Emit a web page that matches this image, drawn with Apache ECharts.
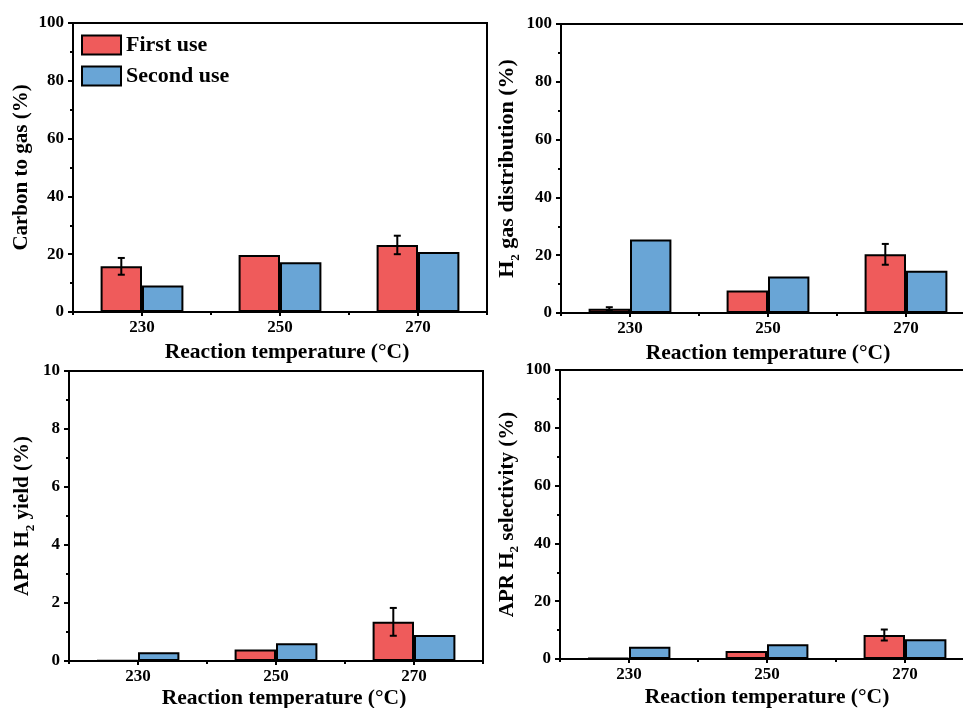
<!DOCTYPE html>
<html>
<head>
<meta charset="utf-8">
<script src="https://cdn.jsdelivr.net/npm/echarts@6/dist/echarts.min.js"></script>
<style>
html,body{margin:0;padding:0;background:#fff;overflow:hidden;width:963px;height:708px;}
#chart{width:990px;height:708px;}
</style>
</head>
<body>
<div id="chart"></div>
<script>
// ---- data ----
var categories = ['230', '250', '270'];
var seriesNames = ['First use', 'Second use'];

var carbonFirst = [15.8, 19.7, 23.2];
var carbonFirstErr = [2.9, 0, 3.2];
var carbonSecond = [9.2, 17.2, 20.8];

var h2DistFirst = [1.5, 7.8, 20.3];
var h2DistFirstErr = [0.5, 0, 3.6];
var h2DistSecond = [25.4, 12.6, 14.6];

var yieldFirst = [0.02, 0.40, 1.35];
var yieldFirstErr = [0, 0, 0.48];
var yieldSecond = [0.30, 0.61, 0.90];

var selFirst = [0.3, 2.8, 8.3];
var selFirstErr = [0, 0, 1.9];
var selSecond = [4.2, 5.1, 6.8];

var yTicks100 = [0, 20, 40, 60, 80, 100];
var yTicks10 = [0, 2, 4, 6, 8, 10];

// ---- styling ----
var FONT = 'Liberation Serif';
var RED = '#EF5B5B';
var BLUE = '#69A5D6';

var panels = [
  { grid: { left: 73, top: 23, width: 414, height: 289 }, yName: 'Carbon to gas (%)', ticks: yTicks100, first: carbonFirst, err: carbonFirstErr, second: carbonSecond, nameGap: 41, xShift: 14, ySize: 21, xGap: 29 },
  { grid: { left: 561, top: 24, width: 414, height: 289 }, yName: '{n|H}{s|2}{n| gas distribution (%)}', ticks: yTicks100, first: h2DistFirst, err: h2DistFirstErr, second: h2DistSecond, nameGap: 36, xShift: 0, ySize: 22, xGap: 29 },
  { grid: { left: 69, top: 371, width: 414, height: 290 }, yName: '{n|APR H}{s|2}{n| yield (%)}', ticks: yTicks10, first: yieldFirst, err: yieldFirstErr, second: yieldSecond, nameGap: 36, xShift: 16, ySize: 21, xGap: 26 },
  { grid: { left: 560, top: 370, width: 414, height: 289 }, yName: '{n|APR H}{s|2}{n| selectivity (%)}', ticks: yTicks100, first: selFirst, err: selFirstErr, second: selSecond, nameGap: 35, xShift: 0, ySize: 21, xGap: 27 }
];

var grids = [], xAxes = [], yAxes = [], series = [];
var black = { color: '#000', width: 2 };

panels.forEach(function (p, i) {
  grids.push(Object.assign({ show: true, borderColor: '#000', borderWidth: 2, backgroundColor: 'transparent', containLabel: false, outerBoundsMode: 'none' }, p.grid));
  var tmin = p.ticks[0], tmax = p.ticks[p.ticks.length - 1];
  var step = p.ticks[1] - p.ticks[0];
  xAxes.push({
    gridIndex: i, type: 'category', data: categories, position: 'bottom',
    axisLine: { show: true, lineStyle: black },
    axisTick: { show: true, alignWithLabel: true, length: 4, lineStyle: black },
    axisLabel: { fontFamily: FONT, fontWeight: 'bold', fontSize: 17, color: '#000', margin: 7 },
    name: 'Reaction temperature (°C)', nameLocation: 'middle', nameGap: p.xGap,
    nameTextStyle: { fontFamily: FONT, fontWeight: 'bold', fontSize: 21.5, color: '#000', padding: [0, 0, 0, p.xShift] }
  });
  xAxes.push({
    gridIndex: i, type: 'category', data: categories, position: 'bottom', offset: 0,
    axisLine: { show: false },
    axisTick: { show: true, interval: 0, length: 3, lineStyle: black },
    axisLabel: { show: false }
  });
  yAxes.push({
    gridIndex: i, type: 'value', min: tmin, max: tmax, interval: step,
    axisLine: { show: true, lineStyle: black },
    axisTick: { show: true, length: 5, lineStyle: black },
    minorTick: { show: true, splitNumber: 2, length: 3, lineStyle: black },
    splitLine: { show: false },
    axisLabel: { fontFamily: FONT, fontWeight: 'bold', fontSize: 17, color: '#000', margin: 9 },
    name: p.yName, nameLocation: 'middle', nameGap: p.nameGap, nameRotate: 90,
    nameTextStyle: {
      fontFamily: FONT, fontWeight: 'bold', fontSize: p.ySize, color: '#000',
      rich: {
        n: { fontFamily: FONT, fontWeight: 'bold', fontSize: p.ySize, color: '#000' },
        s: { fontFamily: FONT, fontWeight: 'bold', fontSize: 13, color: '#000', verticalAlign: 'bottom', padding: [0, 0, -4, 0] }
      }
    }
  });
  var xi = 2 * i;
  series.push({
    name: seriesNames[0], type: 'bar', xAxisIndex: xi, yAxisIndex: i, data: p.first,
    barWidth: '30%', barGap: '0%',
    itemStyle: { color: RED, borderColor: '#000', borderWidth: 2 }
  });
  series.push({
    name: seriesNames[1], type: 'bar', xAxisIndex: xi, yAxisIndex: i, data: p.second,
    barWidth: '30%', barGap: '0%',
    itemStyle: { color: BLUE, borderColor: '#000', borderWidth: 2 }
  });
  var errData = [];
  p.err.forEach(function (e, k) { if (e > 0) errData.push([k, p.first[k], e]); });
  series.push({
    type: 'custom', xAxisIndex: xi, yAxisIndex: i, z: 10, data: errData,
    encode: { x: 0, y: 1 },
    renderItem: function (params, api) {
      var idx = api.value(0), v = api.value(1), e = api.value(2);
      var band = api.size([1, 0])[0];
      var cx = api.coord([idx, v])[0] - band * 0.15;
      var yt = api.coord([idx, v + e])[1];
      var yb = api.coord([idx, v - e])[1];
      var cap = 3.5;
      var st = { stroke: '#000', lineWidth: 2 };
      return {
        type: 'group',
        children: [
          { type: 'line', shape: { x1: cx, y1: yt, x2: cx, y2: yb }, style: st },
          { type: 'line', shape: { x1: cx - cap, y1: yt, x2: cx + cap, y2: yt }, style: st },
          { type: 'line', shape: { x1: cx - cap, y1: yb, x2: cx + cap, y2: yb }, style: st }
        ]
      };
    }
  });
});

var chart = echarts.init(document.getElementById('chart'), null, { renderer: 'canvas' });
chart.setOption({
  animation: false,
  backgroundColor: '#fff',
  legend: {
    data: seriesNames, orient: 'vertical', left: 81, top: 34, padding: 0,
    itemWidth: 39, itemHeight: 19, itemGap: 9, icon: 'rect',
    itemStyle: { borderColor: '#000', borderWidth: 2 },
    textStyle: { fontFamily: FONT, fontWeight: 'bold', fontSize: 22, color: '#000' }
  },
  grid: grids,
  xAxis: xAxes,
  yAxis: yAxes,
  series: series
});
</script>
</body>
</html>
